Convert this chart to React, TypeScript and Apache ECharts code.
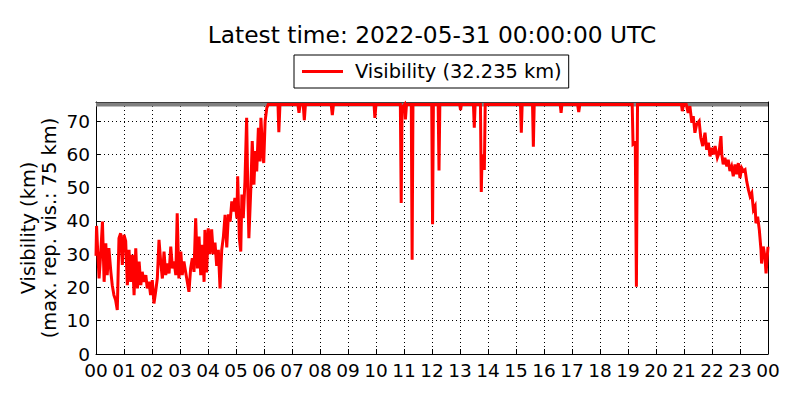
import React, { useEffect, useRef } from "react";
import * as echarts from "echarts";

const FONT = "'DejaVu Sans', sans-serif";

const titleText = "Latest time: 2022-05-31 00:00:00 UTC";
const seriesName = "Visibility (32.235 km)";
const yLabelLine1 = "Visibility (km)";
const yLabelLine2 = "(max. rep. vis.: 75 km)";
const maxRepVis = 75;

const hourTicks = [0, 1, 2, 3, 4, 5, 6, 7, 8, 9, 10, 11, 12, 13, 14, 15, 16, 17, 18, 19, 20, 21, 22, 23, 24];
const hourLabels = ["00", "01", "02", "03", "04", "05", "06", "07", "08", "09", "10", "11", "12", "13", "14", "15", "16", "17", "18", "19", "20", "21", "22", "23", "00"];

// time in hours since 00 UTC
const hours = [
  0.0, 0.02, 0.06, 0.11, 0.17, 0.23, 0.29, 0.35, 0.4, 0.46, 0.53, 0.58, 0.64, 0.7, 0.76, 0.82, 0.88, 0.94,
  1.0, 1.06, 1.12, 1.18, 1.24, 1.3, 1.36, 1.42, 1.48, 1.54, 1.6, 1.65, 1.71, 1.78, 1.83, 1.89, 1.95,
  2.01, 2.07, 2.13, 2.19, 2.25, 2.31, 2.37, 2.43, 2.49, 2.55, 2.61, 2.67, 2.73, 2.79, 2.85, 2.9, 2.96,
  3.03, 3.08, 3.14, 3.2, 3.26, 3.32, 3.38, 3.44, 3.5, 3.56, 3.62, 3.68, 3.74, 3.8, 3.86, 3.89, 3.95,
  4.01, 4.07, 4.13, 4.19, 4.25, 4.31, 4.37, 4.43, 4.49, 4.55, 4.61, 4.67, 4.73, 4.79, 4.85, 4.9, 4.96,
  5.03, 5.06, 5.12, 5.17, 5.21, 5.26, 5.32, 5.38, 5.42, 5.46, 5.53, 5.58, 5.64, 5.69, 5.74, 5.8, 5.86, 5.89, 5.95, 5.99,
  6.04, 6.1, 6.15, 6.5, 6.53, 6.57,
  7.21, 7.25, 7.29, 7.4, 7.44, 7.48,
  8.4, 8.44, 8.48,
  9.93, 9.96, 10.0,
  10.87, 10.9, 10.93, 11.02, 11.05, 11.09, 11.26, 11.29, 11.32,
  11.99, 12.02, 12.05, 12.22, 12.25, 12.28,
  12.99, 13.02, 13.05, 13.48, 13.51, 13.54, 13.73, 13.76, 13.79, 13.83, 13.87, 13.9,
  15.16, 15.19, 15.22, 15.59, 15.62, 15.65,
  16.58, 16.61, 16.64, 17.2, 17.24, 17.28,
  19.15, 19.18, 19.26, 19.3, 19.34,
  20.91, 20.94, 20.98, 21.08,
  21.15, 21.21, 21.28, 21.33, 21.39, 21.45, 21.54, 21.6, 21.67, 21.75, 21.81, 21.87, 21.93, 21.99,
  22.05, 22.11, 22.19, 22.25, 22.32, 22.35, 22.4, 22.46, 22.53, 22.58, 22.64, 22.7, 22.76, 22.82, 22.88, 22.94,
  23.0, 23.06, 23.12, 23.18, 23.24, 23.3, 23.36, 23.42, 23.48, 23.54, 23.57, 23.63, 23.69, 23.71, 23.75, 23.77,
  23.83, 23.89, 23.93, 24.0,
];

// visibility in km
const visibility = [
  29.5, 38.5, 31, 22.7, 30.3, 39.8, 21.7, 33.3, 23.7, 31.8, 24.7, 20.7, 17.7, 16.2, 13.2, 34.8, 36.3, 26.8,
  35.8, 34, 20.7, 31.3, 21.7, 29.8, 17.7, 31.8, 19.7, 27.8, 20.7, 24.7, 21.7, 23.7, 19.7, 21.7, 17.7,
  22.2, 15.2, 18.7, 22.7, 34.3, 27.8, 22.7, 30.8, 23.7, 27.2, 24.2, 32.3, 25.7, 27.8, 23.7, 42.3, 22.7,
  30.8, 23.7, 27.8, 24.7, 21.7, 18.7, 25.7, 28.8, 24.7, 40.8, 25.7, 35.3, 23.7, 32.8, 21.7, 37.3, 24.5,
  37.8, 30, 37.5, 30, 33.5, 26.5, 31.3, 19.7, 31.3, 35.3, 41.8, 32, 42, 39.8, 45.9, 42.8, 46.9,
  40.8, 53.4, 34.8, 30.8, 47.9, 40.8, 51.9, 71, 50, 34.8, 49.9, 64, 50.9, 61, 54.9, 68, 57.9, 71, 61, 57.4,
  70, 74, 75, 75, 66.7, 75,
  75, 72.5, 75, 75, 70.3, 75,
  75, 71.8, 75,
  75, 71, 75,
  75, 45.4, 74, 75, 70.5, 75, 75, 28.3, 75,
  75, 39, 75, 75, 55.2, 75,
  75, 73.3, 75, 75, 68, 75, 75, 48.7, 60, 56, 55.9, 75,
  75, 66.5, 75, 75, 62.3, 75,
  75, 72.5, 75, 75, 72.7, 75,
  75, 63, 63.5, 20.2, 75,
  75, 73, 75, 75,
  72.5, 74.5, 69.5, 71.5, 66.5, 69, 70, 65, 62.5, 66.5, 61.4, 63.5, 59.4, 62,
  60, 62.5, 59, 60.4, 65.5, 60, 57, 59, 56.4, 58.4, 55, 56.4, 53.4, 57, 54, 57.4,
  52.9, 55.9, 55, 55.4, 51.9, 49.4, 47.4, 48.4, 43.4, 44.4, 39.3, 41.3, 37.3, 35.3, 31.3, 27.2,
  32.3, 29.3, 24.2, 32.235,
];

export default function App() {
  const ref = useRef<HTMLDivElement>(null);

  useEffect(() => {
    if (!ref.current) return;
    const chart = echarts.init(ref.current, null, { renderer: "svg" });
    const data = hours.map((h, i) => [h, visibility[i]]);
    const fmtHour = (v: number) => {
      const idx = hourTicks.indexOf(Math.round(v));
      return idx >= 0 && Math.abs(v - Math.round(v)) < 1e-6 ? hourLabels[idx] : "";
    };
    const fmtY = (v: number) => (Math.abs(v % 10) < 1e-6 ? String(v) : "");
    const grid = { left: 96, right: 32, top: 102, bottom: 46 };
    const gridLine = { show: true, lineStyle: { color: "#000", width: 1, type: [1, 3] as any } };

    chart.setOption({
      animation: false,
      backgroundColor: "#fff",
      textStyle: { fontFamily: FONT },
      grid,
      graphic: [
        {
          type: "text",
          x: 432,
          y: 34,
          style: {
            text: titleText,
            font: `23.3px ${FONT}`,
            fill: "#000",
            textAlign: "center",
            textVerticalAlign: "middle",
          },
        },
        {
          type: "text",
          x: 28,
          y: 228,
          rotation: Math.PI / 2,
          style: {
            text: yLabelLine1,
            font: `19.4px ${FONT}`,
            fill: "#000",
            textAlign: "center",
            textVerticalAlign: "middle",
          },
        },
        {
          type: "text",
          x: 49,
          y: 228,
          rotation: Math.PI / 2,
          style: {
            text: yLabelLine2,
            font: `19.4px ${FONT}`,
            fill: "#000",
            textAlign: "center",
            textVerticalAlign: "middle",
          },
        },
      ],
      legend: {
        data: [seriesName],
        left: 294,
        top: 55,
        orient: "horizontal",
        padding: [7, 7, 7, 8],
        borderColor: "#000",
        borderWidth: 1,
        borderRadius: 0,
        itemWidth: 41,
        itemHeight: 3,
        itemGap: 10,
        icon: "rect",
        textStyle: { fontFamily: FONT, fontSize: 19.4, color: "#000", padding: [0, 0, 0, 7] },
        selectedMode: false,
      },
      xAxis: [
        {
          type: "value",
          min: 0,
          max: 24,
          interval: 1,
          position: "bottom",
          axisLine: { show: true, onZero: false, lineStyle: { color: "#000", width: 1 } },
          axisTick: { show: true, inside: true, length: 5, lineStyle: { color: "#000" } },
          axisLabel: { formatter: fmtHour, color: "#000", fontSize: 18.5, fontFamily: FONT, margin: 7 },
          splitLine: gridLine,
        },
        {
          type: "value",
          min: 0,
          max: 24,
          interval: 1,
          position: "top",
          axisLine: { show: true, onZero: false, lineStyle: { color: "#000", width: 1 } },
          axisTick: { show: true, inside: true, length: 5, lineStyle: { color: "#000" } },
          axisLabel: { show: false },
          splitLine: { show: false },
        },
      ],
      yAxis: [
        {
          type: "value",
          min: 0,
          max: 75.75,
          interval: 10,
          position: "left",
          axisLine: { show: true, onZero: false, lineStyle: { color: "#000", width: 1 } },
          axisTick: { show: true, inside: true, length: 5, lineStyle: { color: "#000" } },
          axisLabel: { formatter: fmtY, color: "#000", fontSize: 18.5, fontFamily: FONT, margin: 6 },
          splitLine: gridLine,
        },
        {
          type: "value",
          min: 0,
          max: 75.75,
          interval: 10,
          position: "right",
          axisLine: { show: true, onZero: false, lineStyle: { color: "#000", width: 1 } },
          axisTick: { show: true, inside: true, length: 5, lineStyle: { color: "#000" } },
          axisLabel: { show: false },
          splitLine: { show: false },
        },
      ],
      series: [
        {
          name: "maxRep",
          type: "line",
          data: [
            [0, maxRepVis],
            [24, maxRepVis],
          ],
          showSymbol: false,
          silent: true,
          z: 1,
          lineStyle: { color: "#808080", width: 4 },
        },
        {
          name: seriesName,
          type: "line",
          data,
          showSymbol: false,
          z: 3,
          color: "#ff0000",
          lineStyle: { color: "#ff0000", width: 3, join: "miter" } as any,
        },
      ],
    });
    return () => chart.dispose();
  }, []);

  return <div ref={ref} style={{ position: "absolute", left: 0, top: 0, width: 800, height: 400 }} />;
}
